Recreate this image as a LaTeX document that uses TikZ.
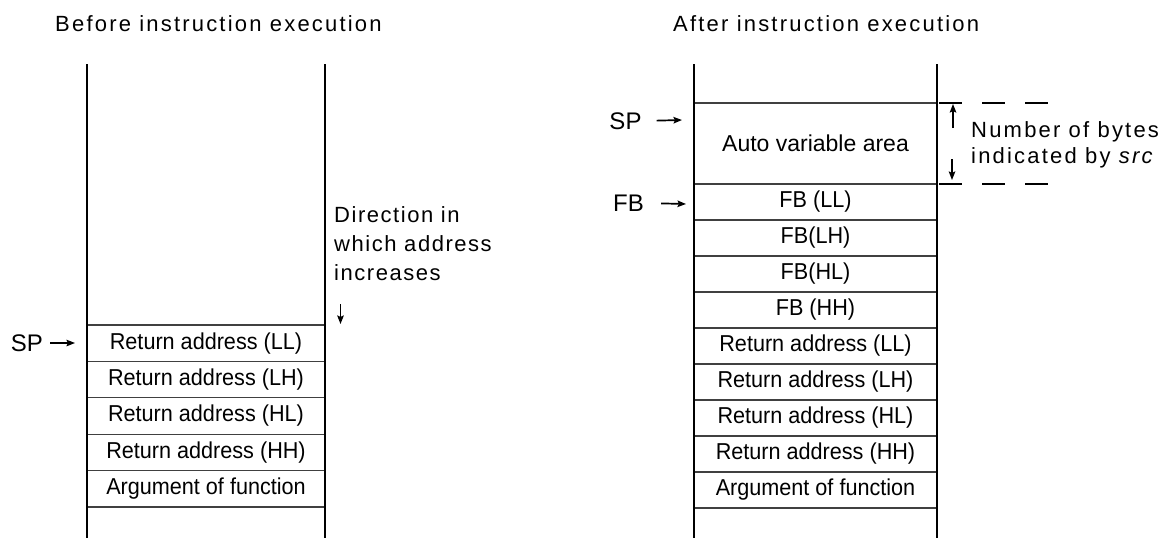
\documentclass[tikz,border=0pt]{standalone}
\usepackage{fontspec}
\usepackage{graphicx}
\setmainfont{Liberation Sans}
\usetikzlibrary{arrows.meta}
\newcommand\celltxt[1]{\scalebox{0.94}[1]{#1}}
\begin{document}
\begin{tikzpicture}[x=1pt,y=-1pt,
  stackline/.style={line width=2.2pt, black},
  rowline/.style={line width=1.3pt, black!75},
  arr/.style={line width=1.7pt, -{Stealth[length=8.5pt,width=6.5pt,inset=1.5pt]}},
  dashline/.style={line width=1.1pt, dash pattern=on 23pt off 20pt},
  celltext/.style={inner sep=0pt, font=\fontsize{23}{23}\selectfont},
  ptrtext/.style={inner sep=0pt, font=\fontsize{24}{24}\selectfont},
  titletext/.style={inner sep=0pt, anchor=base west, font=\fontsize{22}{22}\selectfont\addfontfeature{LetterSpace=10}},
  notetext/.style={inner sep=0pt, anchor=north west, align=left}
]
\useasboundingbox (0,0) rectangle (1171,538);

% titles
\node[titletext] (tbefore) at (55,31) {Before instruction execution};
\node[titletext] (tafter) at (673,31) {After instruction execution};

% ---------- left stack ----------
\coordinate (lt1) at (87,64);  \coordinate (lb1) at (87,538);
\coordinate (lt2) at (325,64); \coordinate (lb2) at (325,538);
\draw[stackline] (lt1) -- (lb1);
\draw[stackline] (lt2) -- (lb2);
\foreach \yy in {325,361.4,397.8,434.2,470.6,507}{
  \draw[rowline] (88,\yy) -- (324,\yy);
}
\node[celltext] (l1) at (206,343.2) {\celltxt{Return address (LL)}};
\node[celltext] (l2) at (206,379.6) {\celltxt{Return address (LH)}};
\node[celltext] (l3) at (206,416.0) {\celltxt{Return address (HL)}};
\node[celltext] (l4) at (206,452.4) {\celltxt{Return address (HH)}};
\node[celltext] (l5) at (206,488.8) {\celltxt{Argument of function}};

\node[ptrtext] (spL) at (27,343) {SP};
\coordinate (spLtip) at (75,343);
\draw[arr, shorten <=7pt] (spL.east) -- (spLtip);

\node[notetext, font=\fontsize{22}{29}\selectfont\addfontfeature{LetterSpace=7}] (dir) at (334,206)
  {Direction in\\which address\\increases};
\coordinate (dirA) at (340.5,304);
\coordinate (dirB) at (340.5,324);
\draw[arr] (dirA) -- (dirB);

% ---------- right stack ----------
\coordinate (rt1) at (694,64);  \coordinate (rb1) at (694,538);
\coordinate (rt2) at (937,64);  \coordinate (rb2) at (937,538);
\draw[stackline] (rt1) -- (rb1);
\draw[stackline] (rt2) -- (rb2);
\foreach \yy in {103,184,220,256,292,328,364,400,436,472,508}{
  \draw[rowline] (695,\yy) -- (936,\yy);
}
\node[celltext] (r0) at (815.5,143.5) {Auto variable area};
\node[celltext] (r1) at (815.5,202) {\celltxt{FB (LL)}};
\node[celltext] (r2) at (815.5,238) {\celltxt{FB(LH)}};
\node[celltext] (r3) at (815.5,274) {\celltxt{FB(HL)}};
\node[celltext] (r4) at (815.5,310) {\celltxt{FB (HH)}};
\node[celltext] (r5) at (815.5,346) {\celltxt{Return address (LL)}};
\node[celltext] (r6) at (815.5,382) {\celltxt{Return address (LH)}};
\node[celltext] (r7) at (815.5,418) {\celltxt{Return address (HL)}};
\node[celltext] (r8) at (815.5,454) {\celltxt{Return address (HH)}};
\node[celltext] (r9) at (815.5,490) {\celltxt{Argument of function}};

\node[ptrtext] (spR) at (625.5,121) {SP};
\coordinate (spRtip) at (682,120);
\draw[arr, shorten <=15pt] (spR.east) -- (spRtip);
\node[ptrtext] (fbR) at (628.5,203) {FB};
\coordinate (fbRtip) at (686,204);
\draw[arr, shorten <=17pt] (fbR.east) -- (fbRtip);

% size annotation
\coordinate (d1a) at (939,103); \coordinate (d1b) at (1054,103);
\coordinate (d2a) at (939,184); \coordinate (d2b) at (1054,184);
\draw[dashline] (d1a) -- (d1b);
\draw[dashline] (d2a) -- (d2b);
\coordinate (upA) at (953,128); \coordinate (upB) at (953,104);
\coordinate (dnA) at (952,159); \coordinate (dnB) at (952,180);
\draw[arr] (upA) -- (upB);
\draw[arr] (dnA) -- (dnB);
\node[notetext, font=\fontsize{22}{26}\selectfont\addfontfeature{LetterSpace=10}] (nb) at (971,121)
  {Number of bytes\\indicated by \textit{src}};
\end{tikzpicture}
\end{document}
